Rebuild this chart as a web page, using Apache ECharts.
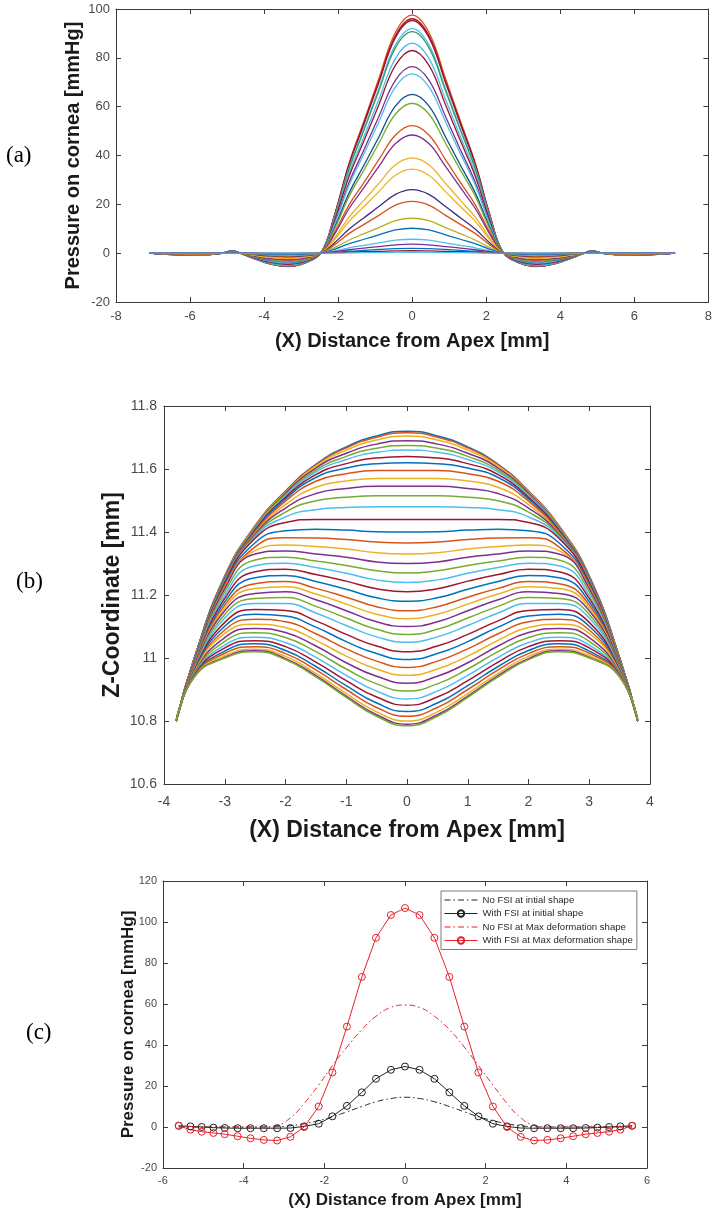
<!DOCTYPE html>
<html>
<head>
<meta charset="utf-8">
<script src="https://cdn.jsdelivr.net/npm/echarts@6/dist/echarts.min.js"></script>
<style>
html,body{margin:0;padding:0;background:#fff;}
#chart{width:715px;height:1211px;}
</style>
</head>
<body>
<div id="chart"></div>
<script>
// ---------- Panel (a): pressure on cornea over time ----------
const xsA = [-7.1,-6.5,-5.9,-5.3,-5.05,-4.87,-4.65,-4.3,-3.9,-3.35,-2.9,-2.45,-2.1,-1.7,-1.3,-0.9,-0.45,0,0.45,0.9,1.3,1.7,2.1,2.45,2.9,3.35,3.9,4.3,4.65,4.87,5.05,5.3,5.9,6.5,7.1];
const pCurve01 = [0,-0.6,-0.9,-0.4,0.3,1.0,0,-2.0,-4.2,-5.5,-4.1,0.5,15.6,37.1,54.2,71.5,90.5,97.5,90.5,71.5,54.2,37.1,15.6,0.5,-4.1,-5.5,-4.2,-2.0,0,1.0,0.3,-0.4,-0.9,-0.6,0];
const pCurve02 = [0,-0.6,-0.9,-0.4,0.3,1.0,0,-2.0,-4.1,-5.4,-4.0,0.5,15.4,36.6,53.4,70.4,89.1,96,89.1,70.4,53.4,36.6,15.4,0.5,-4.0,-5.4,-4.1,-2.0,0,1.0,0.3,-0.4,-0.9,-0.6,0];
const pCurve03 = [0,-0.6,-0.9,-0.4,0.3,1.0,0,-2.0,-4.1,-5.3,-4.0,0.5,15.2,36.3,53.0,69.9,88.4,95.3,88.4,69.9,53.0,36.3,15.2,0.5,-4.0,-5.3,-4.1,-2.0,0,1.0,0.3,-0.4,-0.9,-0.6,0];
const pCurve04 = [0,-0.6,-0.8,-0.4,0.3,0.9,0,-1.9,-4.0,-5.2,-3.9,0.5,14.7,35.1,51.2,67.4,85.4,92,85.4,67.4,51.2,35.1,14.7,0.5,-3.9,-5.2,-4.0,-1.9,0,0.9,0.3,-0.4,-0.8,-0.6,0];
const pCurve05 = [0,-0.5,-0.8,-0.4,0.3,0.9,0,-1.9,-3.9,-5.1,-3.8,0.5,14.5,34.6,50.4,66.5,84.2,90.7,84.2,66.5,50.4,34.6,14.5,0.5,-3.8,-5.1,-3.9,-1.9,0,0.9,0.3,-0.4,-0.8,-0.5,0];
const pCurve06 = [0,-0.5,-0.8,-0.3,0.3,0.9,0,-1.8,-3.7,-4.8,-3.6,0.4,13.8,32.8,47.8,63.0,79.8,86,79.8,63.0,47.8,32.8,13.8,0.4,-3.6,-4.8,-3.7,-1.8,0,0.9,0.3,-0.3,-0.8,-0.5,0];
const pCurve07 = [0,-0.5,-0.7,-0.3,0.2,0.8,0,-1.7,-3.6,-4.6,-3.5,0.4,13.3,31.6,46.1,60.8,77.0,83,77.0,60.8,46.1,31.6,13.3,0.4,-3.5,-4.6,-3.6,-1.7,0,0.8,0.2,-0.3,-0.7,-0.5,0];
const pCurve08 = [0,-0.5,-0.7,-0.3,0.2,0.8,0,-1.6,-3.3,-4.3,-3.2,0.4,12.2,29.1,42.5,56.0,70.9,76.4,70.9,56.0,42.5,29.1,12.2,0.4,-3.2,-4.3,-3.3,-1.6,0,0.8,0.2,-0.3,-0.7,-0.5,0];
const pCurve09 = [0,-0.4,-0.7,-0.3,0.2,0.7,0,-1.5,-3.2,-4.1,-3.1,0.4,11.7,28.0,40.8,53.8,68.1,73.4,68.1,53.8,40.8,28.0,11.7,0.4,-3.1,-4.1,-3.2,-1.5,0,0.7,0.2,-0.3,-0.7,-0.4,0];
const pCurve10 = [0,-0.4,-0.6,-0.3,0.2,0.7,0,-1.4,-2.8,-3.6,-2.7,0.3,10.4,24.8,36.1,47.6,60.3,65,60.3,47.6,36.1,24.8,10.4,0.3,-2.7,-3.6,-2.8,-1.4,0,0.7,0.2,-0.3,-0.6,-0.4,0];
const pCurve11 = [0,-0.4,-0.6,-0.2,0.2,0.6,0,-1.3,-2.6,-3.4,-2.6,0.3,9.8,23.4,34.1,45.0,57.0,61.4,57.0,45.0,34.1,23.4,9.8,0.3,-2.6,-3.4,-2.6,-1.3,0,0.6,0.2,-0.2,-0.6,-0.4,0];
const pCurve12 = [0,-0.3,-0.5,-0.2,0.2,0.5,0,-1.1,-2.2,-2.9,-2.2,0.3,8.4,19.9,29.0,38.3,48.4,52.2,48.4,38.3,29.0,19.9,8.4,0.3,-2.2,-2.9,-2.2,-1.1,0,0.5,0.2,-0.2,-0.5,-0.3,0];
const pCurve13 = [0,-0.3,-0.4,-0.2,0.1,0.5,0,-1.0,-2.1,-2.7,-2.0,0.2,7.7,18.4,26.9,35.5,44.9,48.4,44.9,35.5,26.9,18.4,7.7,0.2,-2.0,-2.7,-2.1,-1.0,0,0.5,0.1,-0.2,-0.4,-0.3,0];
const pCurve14 = [0,-0.2,-0.4,-0.2,0.1,0.4,0,-0.8,-1.7,-2.2,-1.6,0.2,6.2,14.9,21.7,28.6,36.2,39,36.2,28.6,21.7,14.9,6.2,0.2,-1.6,-2.2,-1.7,-0.8,0,0.4,0.1,-0.2,-0.4,-0.2,0];
const pCurve15 = [0,-0.2,-0.3,-0.1,0.1,0.3,0,-0.7,-1.5,-1.9,-1.4,0.2,5.5,13.1,19.1,25.2,31.9,34.4,31.9,25.2,19.1,13.1,5.5,0.2,-1.4,-1.9,-1.5,-0.7,0,0.3,0.1,-0.1,-0.3,-0.2,0];
const pCurve16 = [0,-0.2,-0.2,-0.1,0.1,0.3,0,-0.5,-1.1,-1.5,-1.1,0.1,4.2,9.9,14.5,19.1,24.1,26,24.1,19.1,14.5,9.9,4.2,0.1,-1.1,-1.5,-1.1,-0.5,0,0.3,0.1,-0.1,-0.2,-0.2,0];
const pCurve17 = [0,-0.1,-0.2,-0.1,0.1,0.2,0,-0.4,-0.9,-1.2,-0.9,0.1,3.4,8.1,11.8,15.5,19.7,21.2,19.7,15.5,11.8,8.1,3.4,0.1,-0.9,-1.2,-0.9,-0.4,0,0.2,0.1,-0.1,-0.2,-0.1,0];
const pCurve18 = [0,-0.1,-0.1,-0.1,0,0.1,0,-0.3,-0.6,-0.8,-0.6,0.1,2.3,5.4,8.0,10.5,13.3,14.3,13.3,10.5,8.0,5.4,2.3,0.1,-0.6,-0.8,-0.6,-0.3,0,0.1,0,-0.1,-0.1,-0.1,0];
const pCurve19 = [0,-0.1,-0.1,0,0,0.1,0,-0.2,-0.4,-0.6,-0.4,0.1,1.6,3.9,5.7,7.5,9.5,10.2,9.5,7.5,5.7,3.9,1.6,0.1,-0.4,-0.6,-0.4,-0.2,0,0.1,0,0,-0.1,-0.1,0];
const pCurve20 = [0,0,-0.1,0,0,0.1,0,-0.1,-0.2,-0.3,-0.2,0,0.9,2.2,3.2,4.2,5.3,5.7,5.3,4.2,3.2,2.2,0.9,0,-0.2,-0.3,-0.2,-0.1,0,0.1,0,0,-0.1,0,0];
const pCurve21 = [0,0,0,0,0,0,0,-0.1,-0.2,-0.2,-0.2,0,0.6,1.4,2.1,2.7,3.4,3.7,3.4,2.7,2.1,1.4,0.6,0,-0.2,-0.2,-0.2,-0.1,0,0,0,0,0,0,0];
const pCurve22 = [0,0,0,0,0,0,0,0,-0.1,-0.1,-0.1,0,0.3,0.8,1.1,1.5,1.9,2,1.9,1.5,1.1,0.8,0.3,0,-0.1,-0.1,-0.1,0,0,0,0,0,0,0,0];
const pCurve23 = [0,0,0,0,0,0,0,0,0,-0.1,0,0,0.2,0.4,0.6,0.7,0.9,1,0.9,0.7,0.6,0.4,0.2,0,0,-0.1,0,0,0,0,0,0,0,0,0];
const pCurve24 = [0,0,0,0,0,0,0,0,0,0,0,0,0,0.1,0.2,0.2,0.3,0.3,0.3,0.2,0.2,0.1,0,0,0,0,0,0,0,0,0,0,0,0,0];
const curvesA = [pCurve01,pCurve02,pCurve03,pCurve04,pCurve05,pCurve06,pCurve07,pCurve08,pCurve09,pCurve10,pCurve11,pCurve12,pCurve13,pCurve14,pCurve15,pCurve16,pCurve17,pCurve18,pCurve19,pCurve20,pCurve21,pCurve22,pCurve23,pCurve24];

// ---------- Panel (b): Z-coordinate of cornea surface ----------
const xsB = [-3.8,-3.5,-3,-2.5,-2,-1.5,-1,-0.5,0,0.5,1,1.5,2,2.5,3,3.5,3.8];
const zCurve01 = [10.8,11.0,11.26,11.42,11.53,11.615,11.67,11.705,11.72,11.705,11.67,11.615,11.53,11.42,11.26,11.0,10.8];
const zCurve02 = [10.8,11.0,11.26,11.42,11.529,11.613,11.667,11.701,11.715,11.701,11.667,11.613,11.529,11.42,11.26,11.0,10.8];
const zCurve03 = [10.8,11.0,11.259,11.418,11.526,11.609,11.66,11.692,11.705,11.692,11.66,11.609,11.526,11.418,11.259,11.0,10.8];
const zCurve04 = [10.8,11.0,11.258,11.415,11.523,11.603,11.65,11.679,11.69,11.679,11.65,11.603,11.523,11.415,11.258,11.0,10.8];
const zCurve05 = [10.8,11.0,11.256,11.413,11.519,11.596,11.64,11.666,11.675,11.666,11.64,11.596,11.519,11.413,11.256,11.0,10.8];
const zCurve06 = [10.8,11.0,11.255,11.41,11.515,11.59,11.63,11.653,11.66,11.653,11.63,11.59,11.515,11.41,11.255,11.0,10.8];
const zCurve07 = [10.8,11.0,11.253,11.407,11.51,11.582,11.617,11.635,11.64,11.635,11.617,11.582,11.51,11.407,11.253,11.0,10.8];
const zCurve08 = [10.8,11.0,11.252,11.403,11.505,11.573,11.603,11.617,11.62,11.617,11.603,11.573,11.505,11.403,11.252,11.0,10.8];
const zCurve09 = [10.8,11.0,11.25,11.4,11.498,11.561,11.585,11.595,11.595,11.595,11.585,11.561,11.498,11.4,11.25,11.0,10.8];
const zCurve10 = [10.8,10.998,11.248,11.396,11.487,11.542,11.562,11.57,11.57,11.57,11.562,11.542,11.487,11.396,11.248,10.998,10.8];
const zCurve11 = [10.8,10.997,11.247,11.393,11.476,11.522,11.538,11.545,11.545,11.545,11.538,11.522,11.476,11.393,11.247,10.997,10.8];
const zCurve12 = [10.8,10.995,11.245,11.389,11.463,11.499,11.51,11.515,11.515,11.515,11.51,11.499,11.463,11.389,11.245,10.995,10.8];
const zCurve13 = [10.8,10.993,11.243,11.385,11.448,11.471,11.478,11.48,11.48,11.48,11.478,11.471,11.448,11.385,11.243,10.993,10.8];
const zCurve14 = [10.8,10.99,11.24,11.38,11.43,11.44,11.44,11.44,11.44,11.44,11.44,11.44,11.43,11.38,11.24,10.99,10.8];
const zCurve15 = [10.8,10.987,11.234,11.366,11.404,11.409,11.406,11.401,11.4,11.401,11.406,11.409,11.404,11.366,11.234,10.987,10.8];
const zCurve16 = [10.8,10.985,11.229,11.353,11.382,11.381,11.376,11.368,11.365,11.368,11.376,11.381,11.382,11.353,11.229,10.985,10.8];
const zCurve17 = [10.8,10.982,11.224,11.341,11.359,11.354,11.346,11.334,11.33,11.334,11.346,11.354,11.359,11.341,11.224,10.982,10.8];
const zCurve18 = [10.8,10.98,11.22,11.33,11.34,11.33,11.32,11.305,11.3,11.305,11.32,11.33,11.34,11.33,11.22,10.98,10.8];
const zCurve19 = [10.8,10.979,11.21,11.311,11.32,11.308,11.294,11.277,11.27,11.277,11.294,11.308,11.32,11.311,11.21,10.979,10.8];
const zCurve20 = [10.8,10.977,11.199,11.293,11.301,11.287,11.269,11.248,11.24,11.248,11.269,11.287,11.301,11.293,11.199,10.977,10.8];
const zCurve21 = [10.8,10.976,11.189,11.274,11.282,11.265,11.244,11.22,11.21,11.22,11.244,11.265,11.282,11.274,11.189,10.976,10.8];
const zCurve22 = [10.8,10.974,11.178,11.255,11.262,11.243,11.218,11.191,11.18,11.191,11.218,11.243,11.262,11.255,11.178,10.974,10.8];
const zCurve23 = [10.8,10.973,11.168,11.236,11.243,11.221,11.193,11.163,11.15,11.163,11.193,11.221,11.243,11.236,11.168,10.973,10.8];
const zCurve24 = [10.8,10.971,11.159,11.221,11.226,11.203,11.171,11.139,11.125,11.139,11.171,11.203,11.226,11.221,11.159,10.971,10.8];
const zCurve25 = [10.8,10.97,11.15,11.205,11.21,11.185,11.15,11.115,11.1,11.115,11.15,11.185,11.21,11.205,11.15,10.97,10.8];
const zCurve26 = [10.8,10.967,11.138,11.189,11.192,11.164,11.127,11.091,11.075,11.091,11.127,11.164,11.192,11.189,11.138,10.967,10.8];
const zCurve27 = [10.8,10.965,11.127,11.173,11.173,11.143,11.103,11.067,11.05,11.067,11.103,11.143,11.173,11.173,11.127,10.965,10.8];
const zCurve28 = [10.8,10.962,11.113,11.154,11.151,11.118,11.075,11.038,11.02,11.038,11.075,11.118,11.151,11.154,11.113,10.962,10.8];
const zCurve29 = [10.8,10.96,11.101,11.139,11.133,11.098,11.052,11.014,10.995,11.014,11.052,11.098,11.133,11.139,11.101,10.96,10.8];
const zCurve30 = [10.8,10.957,11.089,11.123,11.115,11.077,11.029,10.99,10.97,10.99,11.029,11.077,11.115,11.123,11.089,10.957,10.8];
const zCurve31 = [10.8,10.955,11.078,11.107,11.097,11.056,11.006,10.965,10.945,10.965,11.006,11.056,11.097,11.107,11.078,10.955,10.8];
const zCurve32 = [10.8,10.952,11.065,11.094,11.081,11.038,10.985,10.942,10.92,10.942,10.985,11.038,11.081,11.094,11.065,10.952,10.8];
const zCurve33 = [10.8,10.95,11.053,11.08,11.065,11.02,10.965,10.918,10.895,10.918,10.965,11.02,11.065,11.08,11.053,10.95,10.8];
const zCurve34 = [10.8,10.948,11.041,11.066,11.049,11.002,10.945,10.895,10.87,10.895,10.945,11.002,11.049,11.066,11.041,10.948,10.8];
const zCurve35 = [10.8,10.946,11.032,11.055,11.036,10.987,10.928,10.876,10.85,10.876,10.928,10.987,11.036,11.055,11.032,10.946,10.8];
const zCurve36 = [10.8,10.944,11.022,11.045,11.024,10.973,10.912,10.857,10.83,10.857,10.912,10.973,11.024,11.045,11.022,10.944,10.8];
const zCurve37 = [10.8,10.943,11.015,11.036,11.014,10.962,10.9,10.843,10.815,10.843,10.9,10.962,11.014,11.036,11.015,10.943,10.8];
const zCurve38 = [10.8,10.941,11.007,11.028,11.005,10.951,10.887,10.829,10.8,10.829,10.887,10.951,11.005,11.028,11.007,10.941,10.8];
const zCurve39 = [10.8,10.94,11.002,11.023,10.998,10.944,10.879,10.82,10.79,10.82,10.879,10.944,10.998,11.023,11.002,10.94,10.8];
const zCurve40 = [10.8,10.94,11.0,11.02,10.995,10.94,10.875,10.815,10.785,10.815,10.875,10.94,10.995,11.02,11.0,10.94,10.8];
const curvesB = [zCurve01,zCurve02,zCurve03,zCurve04,zCurve05,zCurve06,zCurve07,zCurve08,zCurve09,zCurve10,zCurve11,zCurve12,zCurve13,zCurve14,zCurve15,zCurve16,zCurve17,zCurve18,zCurve19,zCurve20,zCurve21,zCurve22,zCurve23,zCurve24,zCurve25,zCurve26,zCurve27,zCurve28,zCurve29,zCurve30,zCurve31,zCurve32,zCurve33,zCurve34,zCurve35,zCurve36,zCurve37,zCurve38,zCurve39,zCurve40];

// ---------- Panel (c): FSI comparison ----------
const xsC = [-5.61,-5.32,-5.04,-4.75,-4.47,-4.15,-3.83,-3.5,-3.17,-2.84,-2.5,-2.14,-1.8,-1.44,-1.07,-0.72,-0.35,0,0.36,0.73,1.1,1.47,1.82,2.18,2.53,2.87,3.2,3.53,3.86,4.17,4.48,4.77,5.06,5.34,5.63];
const noFsiInitial = [0,0,0,0,0,0,0,0,0.1,0.6,1.6,3.1,5.0,7.4,10.0,12.3,13.9,14.5,13.9,12.3,10.0,7.4,5.0,3.1,1.6,0.6,0.1,0,0,0,0,0,0,0,0];
const withFsiInitial = [0.6,0.3,0,-0.3,-0.5,-0.6,-0.6,-0.6,-0.6,-0.5,0.3,1.6,5.2,10.3,16.9,23.5,27.9,29.5,27.9,23.5,16.9,10.3,5.2,1.6,0.3,-0.5,-0.6,-0.6,-0.6,-0.6,-0.5,-0.3,0,0.3,0.6];
const noFsiMaxDef = [0,0,0,0,0,0,0,0,0.8,4.5,11.5,20.5,30,39,47.5,54,58.3,59.5,58.3,54,47.5,39,30,20.5,11.5,4.5,0.8,0,0,0,0,0,0,0,0];
const withFsiMaxDef = [0.6,-1.3,-2.3,-2.9,-3.5,-4.5,-5.5,-6.3,-6.6,-4.8,0,10,26.6,49,73.2,92.3,103.4,106.8,103.4,92.3,73.2,49,26.6,10,0,-4.8,-6.6,-6.3,-5.5,-4.5,-3.5,-2.9,-2.3,-1.3,0.6];
const legendNames = ['No FSI at intial shape','With FSI at initial shape','No FSI at Max deformation shape','With FSI at Max deformation shape'];

// axis tick settings
const axisA = {xMin:-8,xMax:8,xInt:2,yMin:-20,yMax:100,yInt:20};
const axisB = {xMin:-4,xMax:4,xInt:1,yMin:10.6,yMax:11.8,yInt:0.2};
const axisC = {xMin:-6,xMax:6,xInt:2,yMin:-20,yMax:120,yInt:20};

// ---------- styles ----------
const palette = ['#0072BD','#D95319','#EDB120','#7E2F8E','#77AC30','#4DBEEE','#A2142F'];
const colorsA = ['#D95319','#A2142F','#A2142F','#4DBEEE','#3E9A5A','#4DBEEE','#A2142F','#7E2F8E','#4DBEEE','#0B4F8A','#77AC30','#D95319','#7E2F8E','#EDB120','#EDB120','#3B2F7E','#D95319','#B5B020','#0072BD','#4DBEEE','#7E2F8E','#0072BD','#A2142F','#4DBEEE'];
const FONT = 'Liberation Sans';
const lineCol = '#3a3a3a';
const tickCol = '#4a4a4a';
const clear = 'rgba(255,255,255,0)';

function mkX(grid, ax, opts, primary) {
  return {
    gridIndex: grid, type: 'value', min: ax.xMin, max: ax.xMax, interval: ax.xInt,
    position: primary ? 'bottom' : 'top',
    axisLine: {show: true, onZero: false, lineStyle: {color: lineCol, width: 1}},
    axisTick: {show: true, inside: true, length: 5, lineStyle: {color: lineCol}},
    axisLabel: primary ? {show: true, color: tickCol, fontSize: opts.tick, margin: opts.xMargin, fontFamily: FONT} : {show: false},
    splitLine: {show: false},
    name: primary ? '(X) Distance from Apex [mm]' : '',
    nameLocation: 'middle', nameGap: opts.xGap,
    nameTextStyle: {fontSize: opts.title, fontWeight: 'bold', color: '#1a1a1a', fontFamily: FONT}
  };
}
function mkY(grid, ax, opts, primary, name) {
  return {
    gridIndex: grid, type: 'value', min: ax.yMin, max: ax.yMax, interval: ax.yInt,
    position: primary ? 'left' : 'right',
    axisLine: {show: true, onZero: false, lineStyle: {color: lineCol, width: 1}},
    axisTick: {show: true, inside: true, length: 5, lineStyle: {color: lineCol}},
    axisLabel: primary ? {show: true, color: tickCol, fontSize: opts.tick, margin: opts.yMargin, fontFamily: FONT} : {show: false},
    splitLine: {show: false},
    name: primary ? name : '',
    nameLocation: 'middle', nameGap: opts.yGap, nameMoveOverlap: false,
    nameTextStyle: {fontSize: opts.title, fontWeight: 'bold', color: '#1a1a1a', fontFamily: FONT}
  };
}
const optA = {tick: 13, title: 20, xMargin: 8, yMargin: 6, xGap: 29, yGap: 33};
const optB = {tick: 14, title: 23, xMargin: 11, yMargin: 7, xGap: 35, yGap: 40};
const optC = {tick: 11, title: 17, xMargin: 7, yMargin: 6, xGap: 24, yGap: 26};

const xAxes = [mkX(0, axisA, optA, true), mkX(0, axisA, optA, false),
               mkX(1, axisB, optB, true), mkX(1, axisB, optB, false),
               mkX(2, axisC, optC, true), mkX(2, axisC, optC, false)];
const yAxes = [mkY(0, axisA, optA, true, 'Pressure on cornea [mmHg]'), mkY(0, axisA, optA, false, ''),
               mkY(1, axisB, optB, true, 'Z-Coordinate [mm]'), mkY(1, axisB, optB, false, ''),
               mkY(2, axisC, optC, true, 'Pressure on cornea [mmHg]'), mkY(2, axisC, optC, false, '')];

const series = [];
curvesA.forEach((ys, i) => {
  series.push({type: 'line', xAxisIndex: 0, yAxisIndex: 0, silent: true,
    data: xsA.map((x, j) => [x, ys[j]]), smooth: 0.4, showSymbol: false, symbol: 'none',
    lineStyle: {width: 1.3, color: colorsA[i % colorsA.length]}});
});
curvesB.forEach((ys, i) => {
  series.push({type: 'line', xAxisIndex: 2, yAxisIndex: 2, silent: true,
    data: xsB.map((x, j) => [x, ys[j]]), smooth: 0.5, showSymbol: false, symbol: 'none',
    lineStyle: {width: 1.5, color: palette[i % palette.length]}});
});
const black = '#222222', red = '#e8222a';
const dashDot = [6, 3, 1.5, 3];
const cSets = [
  {name: legendNames[0], ys: noFsiInitial, color: black, dash: true},
  {name: legendNames[1], ys: withFsiInitial, color: black, dash: false},
  {name: legendNames[2], ys: noFsiMaxDef, color: red, dash: true},
  {name: legendNames[3], ys: withFsiMaxDef, color: red, dash: false}
];
cSets.forEach(s => {
  series.push({
    type: 'line', name: s.name, xAxisIndex: 4, yAxisIndex: 4,
    data: xsC.map((x, j) => [x, s.ys[j]]),
    smooth: s.dash ? 0.5 : false,
    showSymbol: !s.dash, symbol: 'circle', symbolSize: 7,
    itemStyle: {color: clear, borderColor: s.dash ? clear : s.color, borderWidth: s.dash ? 0 : 1},
    lineStyle: {width: 1, color: s.color, type: s.dash ? dashDot : 'solid'}
  });
});

const option = {
  animation: false,
  backgroundColor: '#ffffff',
  grid: [
    {left: 116, top: 9, width: 598, height: 293},
    {left: 164, top: 406, width: 486, height: 378},
    {left: 163, top: 881, width: 484, height: 287}
  ],
  xAxis: xAxes,
  yAxis: yAxes,
  legend: {
    data: legendNames, orient: 'vertical', left: 441, top: 891,
    itemWidth: 33, itemHeight: 8, itemGap: 3.5,
    padding: [4, 4, 4, 3],
    borderColor: '#7a7a7a', borderWidth: 1, backgroundColor: '#ffffff',
    lineStyle: {width: 1},
    textStyle: {fontSize: 9.6, color: '#2a2a2a', fontFamily: FONT},
    selectedMode: false
  },
  graphic: [
    {type: 'text', left: 6, top: 144, style: {text: '(a)', font: '23px "Liberation Serif"', fill: '#000'}},
    {type: 'text', left: 16, top: 570, style: {text: '(b)', font: '23px "Liberation Serif"', fill: '#000'}},
    {type: 'text', left: 26, top: 1021, style: {text: '(c)', font: '23px "Liberation Serif"', fill: '#000'}}
  ],
  series: series
};
const chart = echarts.init(document.getElementById('chart'), null, {renderer: 'canvas', width: 715, height: 1211});
chart.setOption(option);
</script>
</body>
</html>
